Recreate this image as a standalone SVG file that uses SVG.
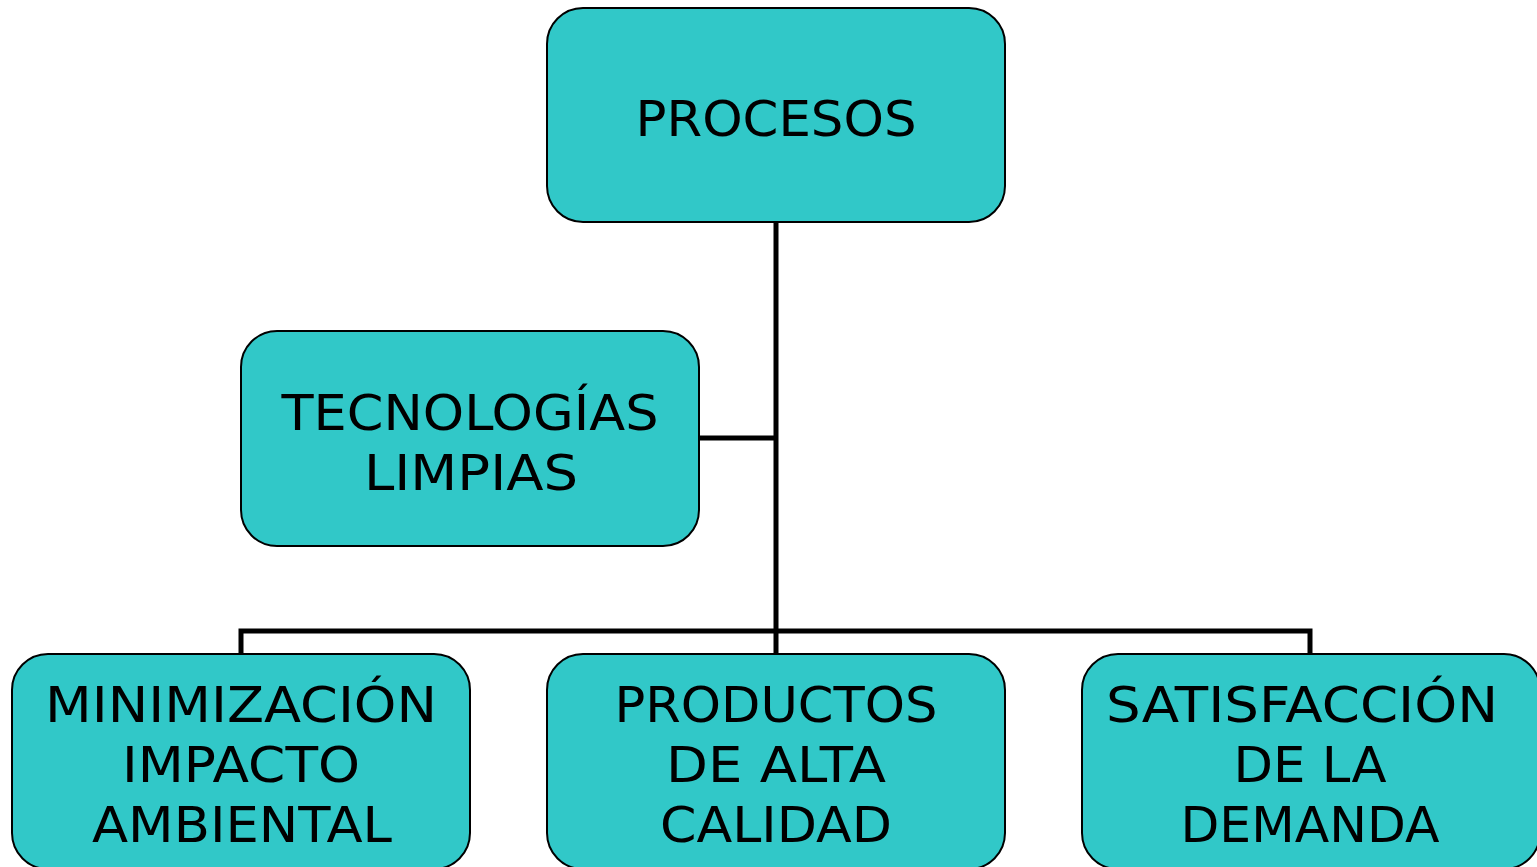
<svg xmlns="http://www.w3.org/2000/svg" width="1537" height="867" viewBox="0 0 1537 867">
<style>
.box{fill:#31C8C8;stroke:#000;stroke-width:2}
.t{font-family:"DejaVu Sans",Verdana,sans-serif;font-size:50px;fill:#000;text-anchor:middle}
.c{fill:none;stroke:#000;stroke-width:5}
</style>
<rect width="1537" height="867" fill="#fff"/>
<g id="connectors">
<path class="c" d="M776 222 V654"/>
<path class="c" d="M699 438 H776"/>
<path class="c" d="M241 654 V631 H1310 V654"/>
</g>
<g id="procesos">
<rect class="box" x="547" y="8" width="458" height="214" rx="36"/>
<text class="t" x="776" y="136" textLength="281" lengthAdjust="spacingAndGlyphs">PROCESOS</text>
</g>
<g id="tecnologias">
<rect class="box" x="241" y="331" width="458" height="215" rx="36"/>
<text class="t" x="470" y="430" textLength="377" lengthAdjust="spacingAndGlyphs">TECNOLOGÍAS</text>
<text class="t" x="471" y="490" textLength="214" lengthAdjust="spacingAndGlyphs">LIMPIAS</text>
</g>
<g id="minimizacion">
<rect class="box" x="12" y="654" width="458" height="215" rx="36"/>
<text class="t" x="241" y="722" textLength="392" lengthAdjust="spacingAndGlyphs">MINIMIZACIÓN</text>
<text class="t" x="241" y="782" textLength="238" lengthAdjust="spacingAndGlyphs">IMPACTO</text>
<text class="t" x="242" y="842" textLength="300" lengthAdjust="spacingAndGlyphs">AMBIENTAL</text>
</g>
<g id="productos">
<rect class="box" x="547" y="654" width="458" height="215" rx="36"/>
<text class="t" x="776" y="722" textLength="323" lengthAdjust="spacingAndGlyphs">PRODUCTOS</text>
<text class="t" x="776" y="782" textLength="220" lengthAdjust="spacingAndGlyphs">DE ALTA</text>
<text class="t" x="776" y="842" textLength="232" lengthAdjust="spacingAndGlyphs">CALIDAD</text>
</g>
<g id="satisfaccion">
<rect class="box" x="1082" y="654" width="458" height="215" rx="36"/>
<text class="t" x="1302" y="722" textLength="392" lengthAdjust="spacingAndGlyphs">SATISFACCIÓN</text>
<text class="t" x="1310" y="782" textLength="153" lengthAdjust="spacingAndGlyphs">DE LA</text>
<text class="t" x="1310" y="842" textLength="259" lengthAdjust="spacingAndGlyphs">DEMANDA</text>
</g>
</svg>
